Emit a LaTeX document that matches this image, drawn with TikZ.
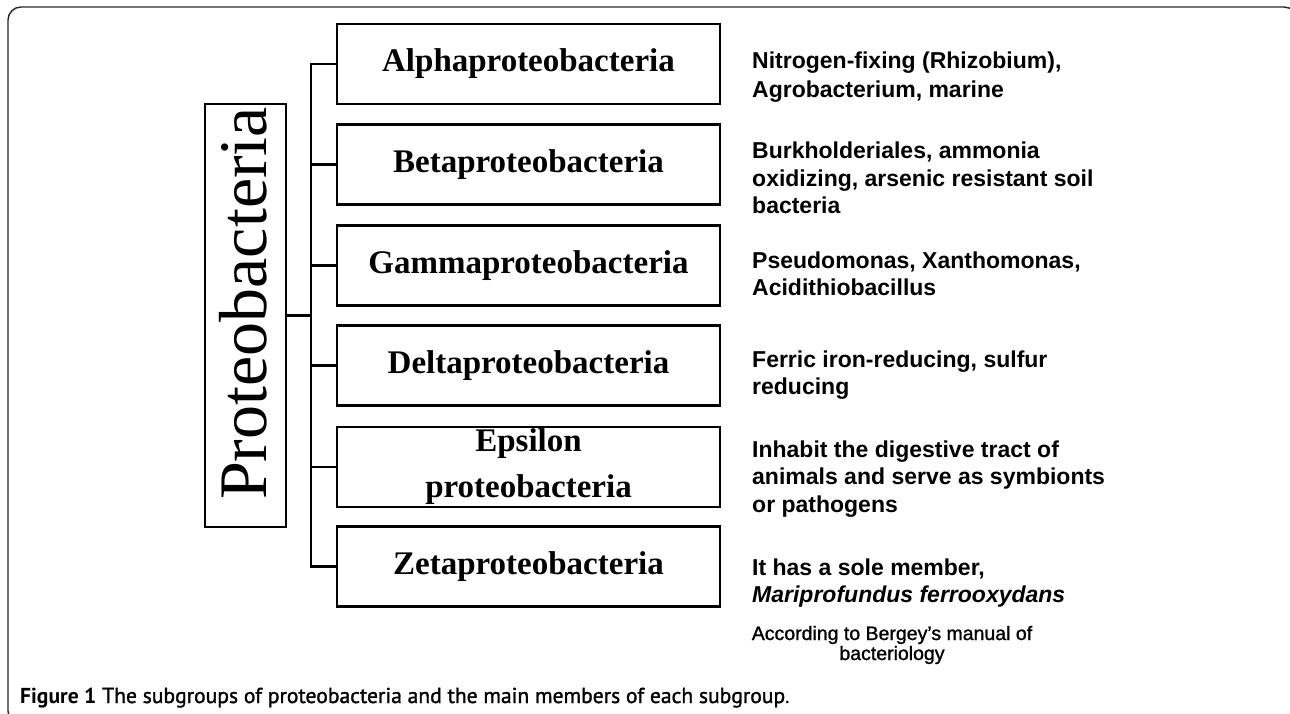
\documentclass[tikz,border=0pt]{standalone}
\usepackage{fontspec}
\setmainfont{Liberation Serif}
\newfontfamily\arialf{Liberation Sans}
\newfontfamily\arialm[FakeBold=1.2]{Liberation Sans}
\newfontfamily\capf{PT Sans}
\newfontfamily\capfs[FakeBold=1.4]{PT Sans}
\begin{document}
\begin{tikzpicture}[x=1pt,y=-1pt,
  grp/.style={draw, line width=2.6pt, minimum width=383pt, minimum height=80pt, inner sep=0pt,
    align=center, font=\fontsize{33}{46}\selectfont\bfseries},
  desc/.style={anchor=base west, inner sep=0pt, font=\arialf\fontsize{23}{27}\selectfont\bfseries},
  note/.style={anchor=base, inner sep=0pt, font=\arialm\fontsize{19.5}{22}\selectfont},
  link/.style={line width=2.8pt},
]
\useasboundingbox (0,0) rectangle (1290,713);
\draw[line width=1.4pt, black!85, rounded corners=13pt] (1297,30) -- (1297,7) -- (8,7) -- (8,724) -- (40,724);

% main box
\node[draw, line width=2.4pt, minimum width=81pt, minimum height=423pt, inner sep=0pt] (proteo) at (245.5,315.5) {};
\node[rotate=90, anchor=base west, inner sep=0pt, font=\fontsize{68}{68}\selectfont] (ptxt) at (266,500) {Proteobacteria};

% subgroup boxes
\node[grp] (b1) at (528.5,64) {Alphaproteobacteria};
\node[grp] (b2) at (528.5,164.5) {Betaproteobacteria};
\node[grp] (b3) at (528.5,265.5) {Gammaproteobacteria};
\node[grp] (b4) at (528.5,365.5) {Deltaproteobacteria};
\node[grp] (b5) at (528.5,467) {Epsilon\\proteobacteria};
\node[grp] (b6) at (528.5,566.5) {Zetaproteobacteria};

% connectors
\coordinate (spine) at (311,315);
\draw[link] (b1.west) -- (b1.west -| spine) -- (b6.west -| spine) -- (b6.west);
\foreach \b in {b2,b3,b4,b5} \draw[link] (\b.west) -- (\b.west -| spine);
\draw[link] (proteo.east) -- (proteo.east -| spine);

% descriptions
\node[desc] (d1a) at (752,68) {Nitrogen-fixing (Rhizobium),};
\node[desc] (d1b) at (752,97) {Agrobacterium, marine};
\node[desc] (d2a) at (752,158) {Burkholderiales, ammonia};
\node[desc] (d2b) at (752,186) {oxidizing, arsenic resistant soil};
\node[desc] (d2c) at (752,213) {bacteria};
\node[desc] (d3a) at (752,268) {Pseudomonas, Xanthomonas,};
\node[desc] (d3b) at (752,295) {Acidithiobacillus};
\node[desc] (d4a) at (752,367) {Ferric iron-reducing, sulfur};
\node[desc] (d4b) at (752,394) {reducing};
\node[desc] (d5a) at (752,457) {Inhabit the digestive tract of};
\node[desc] (d5b) at (752,484) {animals and serve as symbionts};
\node[desc] (d5c) at (752,512) {or pathogens};
\node[desc] (d6a) at (752,575) {It has a sole member,};
\node[desc] (d6b) at (752,602) {\itshape Mariprofundus ferrooxydans};
\node[note] (n1) at (892,640) {According to Bergey’s manual of};
\node[note] (n2) at (892,660) {bacteriology};

% caption
\node[anchor=base west, inner sep=0pt, font=\capf\fontsize{21.6}{25}\selectfont] (cap) at (20,703)
  {\textbf{Figure 1} {\capfs The subgroups of proteobacteria and the main members of each subgroup}.};
\end{tikzpicture}
\end{document}
